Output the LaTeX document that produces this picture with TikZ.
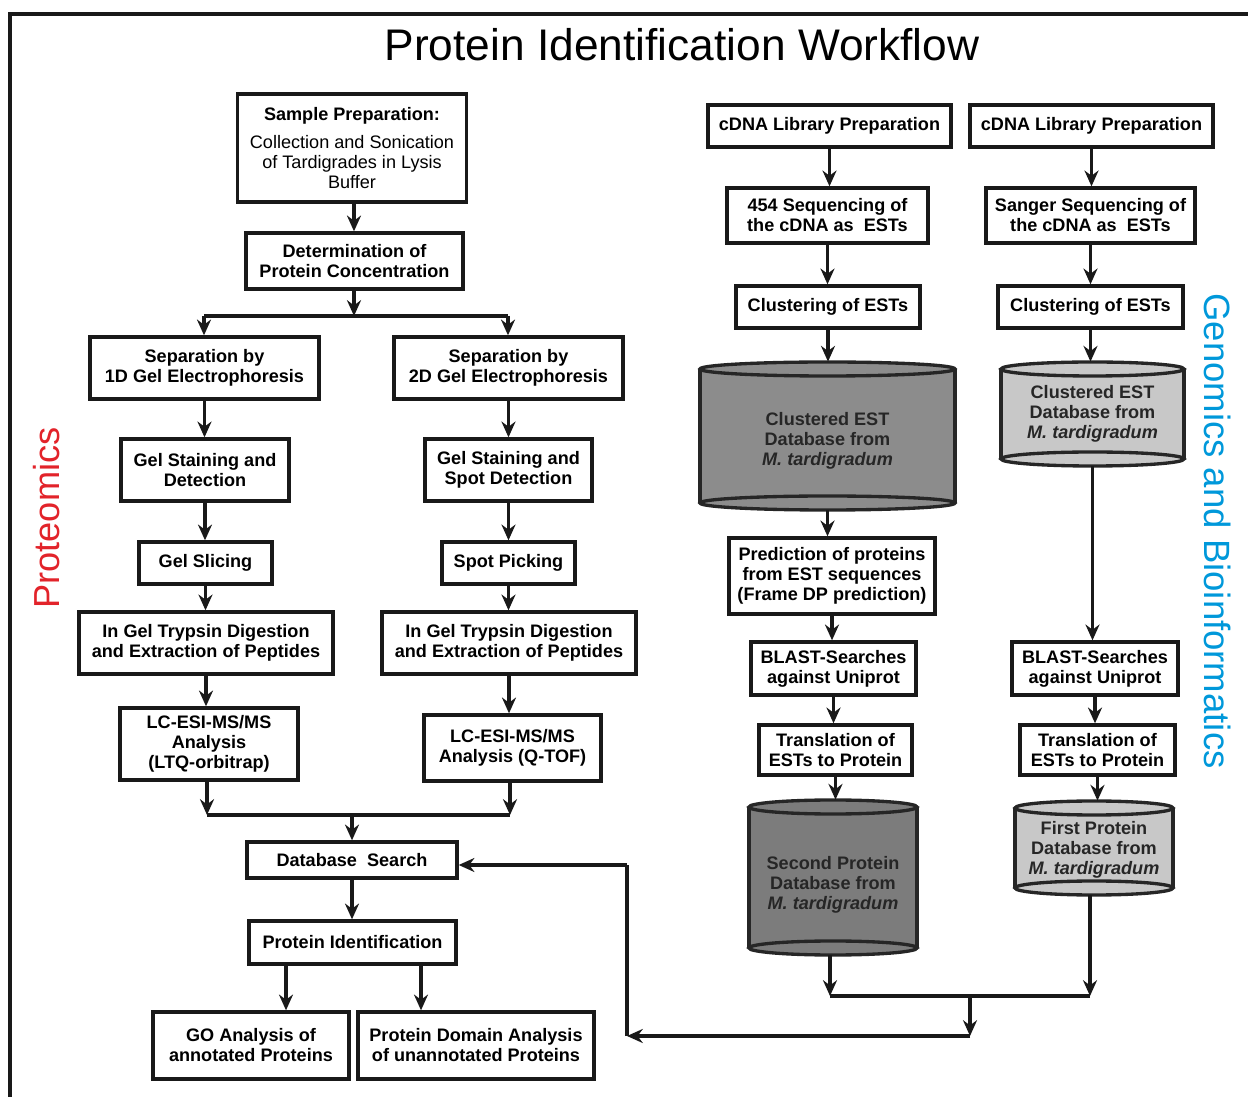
\documentclass[tikz,border=0pt]{standalone}
\usepackage{fontspec}
\setmainfont{Liberation Sans}
\usetikzlibrary{arrows.meta}

\definecolor{protred}{RGB}{226,35,42}
\definecolor{genblue}{RGB}{0,152,218}
\definecolor{dbmid}{RGB}{140,140,140}
\definecolor{dbdark}{RGB}{124,124,124}
\definecolor{dblight}{RGB}{200,200,200}
\definecolor{dbtext}{RGB}{38,38,38}

% database cylinder: name, x1, y1, x2, y2, fill, text, text offset
\newcommand{\dbcyl}[8]{%
  \pgfmathsetmacro{\dbcx}{(#2+#4)/2}
  \pgfmathsetmacro{\dbcy}{(#3+#5)/2}
  \pgfmathsetmacro{\dbrx}{(#4-#2)/2}
  \pgfmathsetmacro{\dbya}{#3+7}
  \pgfmathsetmacro{\dbyb}{#5-7}
  \fill[#6] (\dbcx,\dbyb) ellipse [x radius=\dbrx, y radius=7];
  \fill[#6] (#2,\dbya) rectangle (#4,\dbyb);
  \draw[dbline] (\dbcx,\dbyb) ellipse [x radius=\dbrx, y radius=7];
  \draw[dbline] (#2,\dbya) -- (#2,\dbyb) (#4,\dbya) -- (#4,\dbyb);
  \filldraw[dbline, fill=#6] (\dbcx,\dbya) ellipse [x radius=\dbrx, y radius=7];
  \node[dbnode, sz={#4-#2}{#5-#3}] (#1) at (\dbcx,\dbcy) {};
  \node[dbnode] (#1-txt) at ([yshift=-(#8)*0.02cm]#1.center) {#7};
}

\begin{document}
\begin{tikzpicture}[
        x=0.02cm, y=-0.02cm,
        sz/.style 2 args={minimum width=(#1)*0.02cm, minimum height=(#2)*0.02cm},
        boxnode/.style={draw=black!90, line width=1.9pt, fill=white, align=center, inner sep=2pt,
            font=\bfseries\fontsize{10.3}{11.4}\selectfont},
        dbnode/.style={align=center, inner sep=2pt, text=dbtext,
            font=\bfseries\fontsize{10.3}{11.4}\selectfont},
        dbline/.style={line width=1.9pt, draw=black!85},
        arr/.style={-{Stealth[length=9pt,width=8pt,inset=3pt]}, line width=1.9pt, black!90},
        line/.style={-, line width=1.9pt, black!90},
        ]
            \useasboundingbox (0,0) rectangle (1248,1097);
            \draw[line, line width=2.3pt] (10,1097) -- (10,14) -- (1248,14);

            \node[font=\fontsize{25.2}{30}\selectfont] (title) at (682,45) {Protein Identification Workflow};
            \node[rotate=90, text=protred, font=\fontsize{20.6}{24}\selectfont] (prot) at (47,518) {Proteomics};
            \node[rotate=-90, text=genblue, font=\fontsize{20.8}{24}\selectfont] (gen) at (1218,531) {Genomics and Bioinformatics};

            % proteomics
            \node[boxnode, sz={229}{108}] (sample) at (352,148) {Sample Preparation:\\[5pt]\mdseries Collection and Sonication\\ \mdseries of Tardigrades in Lysis\\ \mdseries Buffer};
            \node[boxnode, sz={217}{56}] (detc) at (354.5,261) {Determination of\\ Protein Concentration};
            \node[boxnode, sz={229}{62}] (sep1) at (204.5,368) {Separation by\\ 1D Gel Electrophoresis};
            \node[boxnode, sz={229}{62}] (sep2) at (508.5,368) {Separation by\\ 2D Gel Electrophoresis};
            \node[boxnode, sz={168}{62}] (stain1) at (205,470) {Gel Staining and\\ Detection};
            \node[boxnode, sz={167}{62}] (stain2) at (508.5,470) {Gel Staining and\\ Spot Detection};
            \node[boxnode, sz={133}{42}] (slice) at (205.5,563) {Gel Slicing};
            \node[boxnode, sz={133}{42}] (pick) at (508.5,563) {Spot Picking};
            \node[boxnode, sz={254}{62}] (dig1) at (206,643) {In Gel Trypsin Digestion\\ and Extraction of Peptides};
            \node[boxnode, sz={254}{62}] (dig2) at (509,643) {In Gel Trypsin Digestion\\ and Extraction of Peptides};
            \node[boxnode, sz={178}{72}] (lc1) at (209,744) {LC-ESI-MS/MS\\ Analysis\\ (LTQ-orbitrap)};
            \node[boxnode, sz={177}{66}] (lc2) at (512.5,748) {LC-ESI-MS/MS\\ Analysis (Q-TOF)};
            \node[boxnode, sz={210}{36}] (dbs) at (352,860) {Database\ \ Search};
            \node[boxnode, sz={207}{43}] (pid) at (352.5,942.5) {Protein Identification};
            \node[boxnode, sz={196}{67}] (go) at (251,1045.5) {GO Analysis of\\ annotated Proteins};
            \node[boxnode, sz={236}{67}] (pda) at (476,1045.5) {Protein Domain Analysis\\ of unannotated Proteins};

            % genomics, 454 branch
            \node[boxnode, sz={243}{42}] (cdna1) at (829.5,126) {cDNA Library Preparation};
            \node[boxnode, sz={201}{55}] (seq1) at (827.5,215.5) {454 Sequencing of\\ the cDNA as\ \ ESTs};
            \node[boxnode, sz={184}{42}] (clu1) at (828,307) {Clustering of ESTs};
            \dbcyl{est1}{700}{362}{955}{510}{dbmid}{Clustered EST\\ Database from\\ \textit{M. tardigradum}}{5}
            \node[boxnode, sz={206}{76}] (pred) at (832,576) {Prediction of proteins\\ from EST sequences\\ (Frame DP prediction)};
            \node[boxnode, sz={165}{53}] (blast1) at (833.5,668.5) {BLAST-Searches\\ against Uniprot};
            \node[boxnode, sz={153}{50}] (trans1) at (835.5,750) {Translation of\\ ESTs to Protein};
            \dbcyl{prot2}{749}{800}{917}{955}{dbdark}{Second Protein\\ Database from\\ \textit{M. tardigradum}}{7}

            % genomics, Sanger branch
            \node[boxnode, sz={243}{42}] (cdna2) at (1091.5,126) {cDNA Library Preparation};
            \node[boxnode, sz={209}{55}] (seq2) at (1090.5,215.5) {Sanger Sequencing of\\ the cDNA as\ \ ESTs};
            \node[boxnode, sz={185}{42}] (clu2) at (1090.5,307) {Clustering of ESTs};
            \dbcyl{est2}{1001}{362}{1184}{466}{dblight}{Clustered EST\\ Database from\\ \textit{M. tardigradum}}{0}
            \node[boxnode, sz={166}{53}] (blast2) at (1095,668.5) {BLAST-Searches\\ against Uniprot};
            \node[boxnode, sz={155}{50}] (trans2) at (1097.5,750) {Translation of\\ ESTs to Protein};
            \dbcyl{prot1}{1015}{801}{1173}{895}{dblight}{First Protein\\ Database from\\ \textit{M. tardigradum}}{2}

            % junctions
            \coordinate (s0) at (354,316);
            \coordinate (s1) at (204,316);
            \coordinate (s2) at (508,316);
            \coordinate (t0) at (352,815);
            \coordinate (t1) at (207,815);
            \coordinate (t2) at (510,815);
            \coordinate (g1) at (286,0);
            \coordinate (g2) at (421,0);
            \coordinate (m1) at (830,996);
            \coordinate (m2) at (1090,996);
            \coordinate (m3) at (970,996);
            \coordinate (m4) at (970,1036);
            \coordinate (m5) at (627,1036);
            \coordinate (m6) at (627,865);

            \draw[arr] (sample.south -| s0) -- (detc.north -| s0);
            \draw[arr] (detc.south -| s0) -- (s0);
            \draw[line] (s1) -- (s2);
            \draw[arr] (s1) -- (s1 |- sep1.north);
            \draw[arr] (s2) -- (s2 |- sep2.north);
            \draw[arr] (sep1.south) -- (sep1.south |- stain1.north);
            \draw[arr] (sep2.south) -- (sep2.south |- stain2.north);
            \draw[arr] (stain1.south) -- (stain1.south |- slice.north);
            \draw[arr] (stain2.south) -- (stain2.south |- pick.north);
            \draw[arr] (slice.south) -- (slice.south |- dig1.north);
            \draw[arr] (pick.south) -- (pick.south |- dig2.north);
            \draw[arr] (dig1.south) -- (dig1.south |- lc1.north);
            \draw[arr] (dig2.south) -- (dig2.south |- lc2.north);
            \draw[arr] (t1 |- lc1.south) -- (t1);
            \draw[arr] (t2 |- lc2.south) -- (t2);
            \draw[line] (t1) -- (t2);
            \draw[arr] (t0) -- (t0 |- dbs.north);
            \draw[arr] (dbs.south) -- (dbs.south |- pid.north);
            \draw[arr] (pid.south -| g1) -- (go.north -| g1);
            \draw[arr] (pid.south -| g2) -- (pda.north -| g2);

            \draw[arr] (cdna1.south) -- (cdna1.south |- seq1.north);
            \draw[arr] (seq1.south) -- (seq1.south |- clu1.north);
            \draw[arr] (clu1.south) -- (clu1.south |- est1.north);
            \draw[arr] (est1.south) -- (est1.south |- pred.north);
            \draw[arr] (pred.south) -- (pred.south |- blast1.north);
            \draw[arr] (blast1.south) -- (blast1.south |- trans1.north);
            \draw[arr] (trans1.south) -- (trans1.south |- prot2.north);

            \draw[arr] (cdna2.south) -- (cdna2.south |- seq2.north);
            \draw[arr] (seq2.south) -- (seq2.south |- clu2.north);
            \draw[arr] (clu2.south) -- (clu2.south |- est2.north);
            \draw[arr] (est2.south) -- (est2.south |- blast2.north);
            \draw[arr] (blast2.south) -- (blast2.south |- trans2.north);
            \draw[arr] (trans2.south) -- (trans2.south |- prot1.north);

            \draw[arr] (prot2.south -| m1) -- (m1);
            \draw[arr] (prot1.south -| m2) -- (m2);
            \draw[line] (m1) -- (m2);
            \draw[arr] (m3) -- (m4);
            \draw[arr] (m4) -- (m5);
            \draw[line] (m5) -- (m6);
            \draw[arr] (m6) -- (m6 -| dbs.east);

            \end{tikzpicture}
\end{document}
